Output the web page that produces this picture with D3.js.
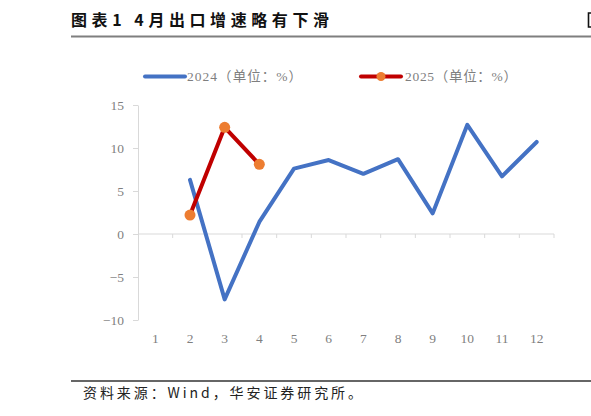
<!DOCTYPE html>
<html>
<head>
<meta charset="utf-8">
<script src="https://cdn.jsdelivr.net/npm/d3@7"></script>
<style>
  body { margin: 0; background: #fff; }
  svg { display: block; }
</style>
</head>
<body>
<svg id="chart" width="591" height="416"></svg>
<script>
const months = [1, 2, 3, 4, 5, 6, 7, 8, 9, 10, 11, 12]
const yTicks = [-10, -5, 0, 5, 10, 15]
// export growth, % yoy (month 1 has no value)
const exports2024 = [null, 6.3, -7.6, 1.4, 7.6, 8.6, 7.0, 8.7, 2.4, 12.7, 6.7, 10.7]
const exports2025 = [null, 2.2, 12.4, 8.1]
const seriesNames = ["2024（单位：%）", "2025（单位：%）"]

const svg = d3.select("#chart")
const serif = "'Liberation Serif', 'Noto Sans CJK SC', serif"
const cjk = "'Noto Sans CJK SC', sans-serif"
const axisColor = "#d9d9d9"
const labelColor = "#7f7f7f"

// title + rules
svg.append("text")
  .attr("x", 71).attr("y", 26)
  .attr("font-family", cjk).attr("font-weight", "bold")
  .attr("font-size", 16).attr("fill", "#111")
  .attr("textLength", 258)
  .text("图表1 4月出口增速略有下滑")
// sliver of the next column's title at the right edge
svg.append("path")
  .attr("d", "M591,13 H588.5 V27 H591")
  .attr("fill", "none").attr("stroke", "#111").attr("stroke-width", 1.6)
svg.append("line")
  .attr("x1", 71).attr("x2", 591).attr("y1", 36.5).attr("y2", 36.5)
  .attr("stroke", "#7f7f7f").attr("stroke-width", 2)

svg.append("line")
  .attr("x1", 71).attr("x2", 591).attr("y1", 381).attr("y2", 381)
  .attr("stroke", "#333").attr("stroke-width", 1.3)
svg.append("text")
  .attr("x", 83).attr("y", 398)
  .attr("font-family", cjk).attr("font-size", 14).attr("fill", "#222")
  .attr("textLength", 279)
  .text("资料来源：Wind，华安证券研究所。")

// scales
const x = d3.scaleBand().domain(months).range([138, 554])
const y = d3.scaleLinear().domain([-10, 15]).range([320, 105])
const cx = (m) => x(m) + x.bandwidth() / 2

// y axis
const yAxis = svg.append("g")
  .attr("transform", "translate(138,0)")
  .call(d3.axisLeft(y).tickValues(yTicks).tickSize(5).tickPadding(9).tickSizeOuter(0))
yAxis.select(".domain").attr("stroke", axisColor)
yAxis.selectAll(".tick line").attr("stroke", axisColor)
yAxis.selectAll(".tick text")
  .attr("font-family", serif).attr("font-size", 13.5).attr("fill", labelColor)

// x axis at zero, ticks between categories
svg.append("line")
  .attr("x1", 138).attr("x2", 554).attr("y1", y(0)).attr("y2", y(0))
  .attr("stroke", axisColor)
svg.append("g").selectAll("line")
  .data(months)
  .join("line")
  .attr("x1", (d) => x(d) + x.step()).attr("x2", (d) => x(d) + x.step())
  .attr("y1", y(0)).attr("y2", y(0) + 4)
  .attr("stroke", axisColor)
svg.append("g").selectAll("text")
  .data(months)
  .join("text")
  .attr("x", cx).attr("y", 343)
  .attr("text-anchor", "middle")
  .attr("font-family", serif).attr("font-size", 13.5).attr("fill", labelColor)
  .text((d) => d)

// lines
const line = d3.line()
  .defined((d) => d != null)
  .x((d, i) => cx(months[i]))
  .y((d) => y(d))

svg.append("path")
  .datum(exports2024)
  .attr("d", line)
  .attr("fill", "none").attr("stroke", "#4472c4")
  .attr("stroke-width", 4).attr("stroke-linejoin", "round").attr("stroke-linecap", "round")

svg.append("path")
  .datum(exports2025)
  .attr("d", line)
  .attr("fill", "none").attr("stroke", "#c00000")
  .attr("stroke-width", 4).attr("stroke-linejoin", "round").attr("stroke-linecap", "round")

svg.append("g").selectAll("circle")
  .data(exports2025.map((v, i) => ({ m: months[i], v })).filter((d) => d.v != null))
  .join("circle")
  .attr("cx", (d) => cx(d.m)).attr("cy", (d) => y(d.v))
  .attr("r", 5.5).attr("fill", "#ed7d31")

// legend
const legend = svg.append("g").attr("transform", "translate(0,76.5)")
legend.append("line")
  .attr("x1", 145).attr("x2", 185)
  .attr("stroke", "#4472c4").attr("stroke-width", 4).attr("stroke-linecap", "round")
legend.append("text")
  .attr("x", 187).attr("y", 4.5)
  .attr("font-family", serif).attr("font-size", 13.5).attr("fill", labelColor)
  .attr("textLength", 115)
  .text(seriesNames[0])
legend.append("line")
  .attr("x1", 361).attr("x2", 401)
  .attr("stroke", "#c00000").attr("stroke-width", 4).attr("stroke-linecap", "round")
legend.append("circle")
  .attr("cx", 381).attr("r", 4.5).attr("fill", "#ed7d31")
legend.append("text")
  .attr("x", 405).attr("y", 4.5)
  .attr("font-family", serif).attr("font-size", 13.5).attr("fill", labelColor)
  .attr("textLength", 112)
  .text(seriesNames[1])
</script>
</body>
</html>
